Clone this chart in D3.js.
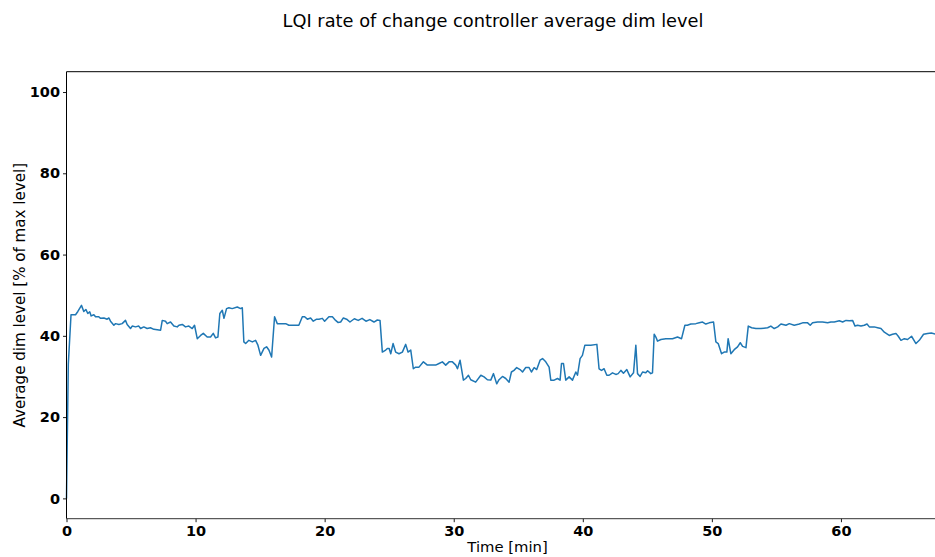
<!DOCTYPE html>
<html>
<head>
<meta charset="utf-8">
<script src="https://cdn.jsdelivr.net/npm/d3@7"></script>
<style>
  html, body { margin: 0; padding: 0; background: #fff; }
  svg { display: block; }
  text { font-family: "DejaVu Sans", sans-serif; fill: #000; }
  .tick text { font-weight: bold; font-size: 14.5px; }
</style>
</head>
<body>
<svg id="chart" width="935" height="557"></svg>
<script>
// Average dim level over time (minutes, percent of max level)
const timeMin = [
  0, 0.05, 0.14, 0.35, 0.7, 0.88, 1.16, 1.34, 1.5, 1.65, 1.8, 1.91, 2.12, 2.25, 2.5, 2.64, 2.9, 3.15, 3.28, 3.41,
  3.67, 3.8, 4.06, 4.31, 4.57, 4.7, 4.96, 5.09, 5.35, 5.6, 5.74, 5.99, 6.25, 6.5, 6.77, 7.29, 7.42, 7.67, 7.8, 8.06,
  8.32, 8.58, 8.71, 8.97, 9.22, 9.48, 9.74, 9.92, 10.13, 10.39, 10.6, 10.9, 11.16, 11.37, 11.55, 11.73, 11.88, 12.07, 12.2, 12.4,
  12.58, 12.84, 13.23, 13.49, 13.62, 13.74, 13.88, 14.13, 14.4, 14.65, 14.83, 15.04, 15.3, 15.5, 15.68, 15.89, 16.12, 16.33, 16.59, 16.98,
  17.23, 17.62, 18.0, 18.27, 18.45, 18.66, 18.91, 19.12, 19.38, 19.56, 19.82, 20.0, 20.33, 20.6, 20.85, 21.03, 21.24, 21.45, 21.7, 21.96,
  22.3, 22.6, 22.9, 23.2, 23.5, 23.82, 24.08, 24.29, 24.47, 24.73, 24.86, 25.0, 25.12, 25.3, 25.5, 25.76, 26.02, 26.28, 26.46, 26.67,
  26.87, 27.05, 27.31, 27.65, 27.96, 28.22, 28.6, 28.86, 29.12, 29.38, 29.64, 29.9, 30.16, 30.29, 30.49, 30.75, 30.93, 31.14, 31.32, 31.7,
  32.1, 32.35, 32.61, 32.87, 33.08, 33.33, 33.51, 33.78, 34.03, 34.29, 34.47, 34.67, 34.88, 35.14, 35.33, 35.58, 35.84, 36.02, 36.23, 36.43,
  36.69, 36.88, 37.13, 37.39, 37.52, 37.78, 38.04, 38.24, 38.35, 38.5, 38.68, 38.94, 39.2, 39.46, 39.59, 39.79, 39.97, 40.16, 40.62, 41.09,
  41.26, 41.45, 41.65, 41.86, 42.04, 42.3, 42.56, 42.74, 42.95, 43.15, 43.41, 43.67, 43.93, 44.11, 44.24, 44.44, 44.63, 44.88, 45.02, 45.27,
  45.4, 45.53, 45.66, 45.79, 46.05, 46.43, 46.95, 47.34, 47.65, 47.91, 48.1, 48.37, 48.76, 49.02, 49.28, 49.53, 49.79, 50.13, 50.31, 50.49,
  50.75, 50.95, 51.16, 51.26, 51.47, 51.73, 51.99, 52.2, 52.38, 52.64, 52.82, 53.08, 53.41, 53.8, 54.32, 54.57, 54.83, 55.1, 55.35, 55.74,
  56.0, 56.38, 56.77, 57.03, 57.42, 57.62, 57.8, 58.19, 58.58, 58.97, 59.22, 59.48, 59.87, 60.13, 60.39, 60.64, 60.9, 61.09, 61.29, 61.55,
  61.81, 62.02, 62.2, 62.58, 62.84, 63.1, 63.36, 63.74, 64.0, 64.26, 64.44, 64.65, 64.91, 65.16, 65.47, 65.81, 66.07, 66.4, 66.71, 67.0,
  67.36, 67.8, 68.1
];
const dimLevel = [
  0, 12, 33, 45.2, 45.2, 46.0, 47.5, 46.0, 46.5, 45.5, 45.9, 44.9, 45.2, 44.7, 44.7, 44.3, 44.4, 44.1, 44.4, 43.6,
  42.6, 43.0, 42.8, 43.0, 43.8, 42.8, 41.8, 42.4, 42.2, 42.4, 41.8, 42.2, 41.8, 42.0, 41.6, 41.4, 43.8, 43.6, 43.0, 43.4,
  42.4, 42.2, 42.6, 42.8, 42.2, 42.4, 41.8, 42.6, 39.3, 40.1, 40.6, 39.7, 39.7, 40.6, 39.5, 39.7, 45.5, 46.3, 44.3, 46.7,
  46.9, 46.7, 47.1, 46.7, 46.9, 38.5, 38.1, 38.9, 38.5, 38.9, 37.7, 35.2, 36.9, 37.3, 36.5, 34.8, 44.7, 43.0, 43.0, 43.0,
  42.6, 42.6, 42.6, 44.7, 44.7, 44.1, 44.4, 43.6, 44.1, 44.1, 44.3, 43.6, 44.7, 44.7, 43.8, 43.3, 43.4, 44.4, 44.1, 43.4,
  44.2, 43.8, 44.3, 43.6, 44.0, 43.4, 43.9, 43.8, 36.0, 36.5, 36.9, 36.9, 35.6, 38.1, 36.0, 35.6, 36.0, 37.9, 36.0, 36.5,
  31.9, 32.3, 32.3, 33.6, 32.8, 32.8, 32.8, 33.2, 33.6, 32.8, 33.6, 33.6, 32.8, 31.9, 34.0, 29.1, 29.5, 30.3, 29.2, 28.6,
  30.3, 29.9, 29.2, 29.1, 30.7, 28.2, 29.2, 30.0, 29.5, 28.6, 31.1, 31.5, 32.2, 31.7, 31.1, 32.2, 32.2, 31.1, 32.2, 31.7,
  34.0, 34.4, 33.6, 32.3, 29.1, 29.1, 29.5, 29.1, 33.2, 33.2, 29.1, 29.9, 29.1, 31.1, 30.3, 34.4, 35.2, 37.7, 37.7, 37.9,
  31.9, 31.5, 31.9, 30.3, 30.3, 30.9, 30.5, 30.7, 31.5, 30.8, 31.7, 29.9, 30.9, 37.7, 30.7, 30.0, 31.1, 30.9, 31.4, 30.7,
  30.9, 40.4, 39.7, 38.7, 39.1, 39.3, 39.3, 39.7, 39.3, 42.6, 42.6, 42.9, 43.0, 43.2, 43.4, 42.9, 43.2, 43.4, 38.5, 38.1,
  35.6, 36.0, 36.0, 39.3, 35.6, 36.6, 37.3, 38.3, 37.4, 37.1, 42.4, 42.0, 41.8, 41.8, 42.0, 42.4, 41.8, 42.2, 42.9, 42.6,
  43.0, 42.6, 42.9, 43.2, 43.2, 42.6, 43.2, 43.4, 43.4, 43.2, 43.4, 43.4, 43.7, 43.4, 43.8, 43.7, 43.8, 42.4, 42.6, 42.4,
  42.6, 42.9, 42.2, 42.2, 42.0, 41.8, 40.9, 40.1, 40.4, 40.6, 39.9, 38.9, 39.3, 39.1, 39.9, 38.1, 38.9, 40.4, 40.6, 40.7,
  40.4, 40.5, 40.5
];
const xTicks = [0, 10, 20, 30, 40, 50, 60];
const yTicks = [0, 20, 40, 60, 80, 100];

const chartTitle = "LQI rate of change controller average dim level";
const xLabel = "Time [min]";
const yLabel = "Average dim level [% of max level]";

const svg = d3.select("#chart");
const plotLeft = 66.5, plotRight = 945.5, plotTop = 71.7, plotBottom = 518.7;

const x = d3.scaleLinear().domain([0, 68.1]).range([plotLeft, plotRight]);
const y = d3.scaleLinear().domain([-5, 105]).range([plotBottom, plotTop]);

const points = timeMin.map((t, i) => [t, dimLevel[i]]);

// data line
svg.append("path")
  .datum(points)
  .attr("fill", "none")
  .attr("stroke", "#1f77b4")
  .attr("stroke-width", 1.5)
  .attr("stroke-linejoin", "round")
  .attr("d", d3.line().x(d => x(d[0])).y(d => y(d[1])));

// axes
const xAxis = svg.append("g")
  .attr("transform", `translate(0,${plotBottom})`)
  .call(d3.axisBottom(x).tickValues(xTicks).tickSize(3.5).tickPadding(3.5).tickSizeOuter(0));
const yAxis = svg.append("g")
  .attr("transform", `translate(${plotLeft},0)`)
  .call(d3.axisLeft(y).tickValues(yTicks).tickSize(3.5).tickPadding(3).tickSizeOuter(0));
[xAxis, yAxis].forEach(g => {
  g.select(".domain").remove();
  g.selectAll(".tick line").attr("stroke", "#000").attr("stroke-width", 0.9);
  g.selectAll(".tick text").attr("fill", "#000");
});

// spines
const spine = svg.append("g").attr("stroke", "#000").attr("stroke-width", 1).attr("fill", "none");
spine.append("line").attr("x1", plotLeft).attr("x2", plotLeft).attr("y1", plotTop).attr("y2", plotBottom);
spine.append("line").attr("x1", plotLeft).attr("x2", plotRight).attr("y1", plotTop).attr("y2", plotTop);
spine.append("line").attr("x1", plotLeft).attr("x2", plotRight).attr("y1", plotBottom).attr("y2", plotBottom).attr("stroke", "#333");

// title and axis labels
svg.append("text")
  .attr("x", 493).attr("y", 26.5)
  .attr("text-anchor", "middle")
  .style("font-size", "17.8px")
  .text(chartTitle);

svg.append("text")
  .attr("x", 507.5).attr("y", 552)
  .attr("text-anchor", "middle")
  .style("font-size", "14.8px")
  .text(xLabel);

svg.append("text")
  .attr("transform", `translate(25,${(plotTop + plotBottom) / 2}) rotate(-90)`)
  .attr("text-anchor", "middle")
  .style("font-size", "15.1px")
  .text(yLabel);
</script>
</body>
</html>
